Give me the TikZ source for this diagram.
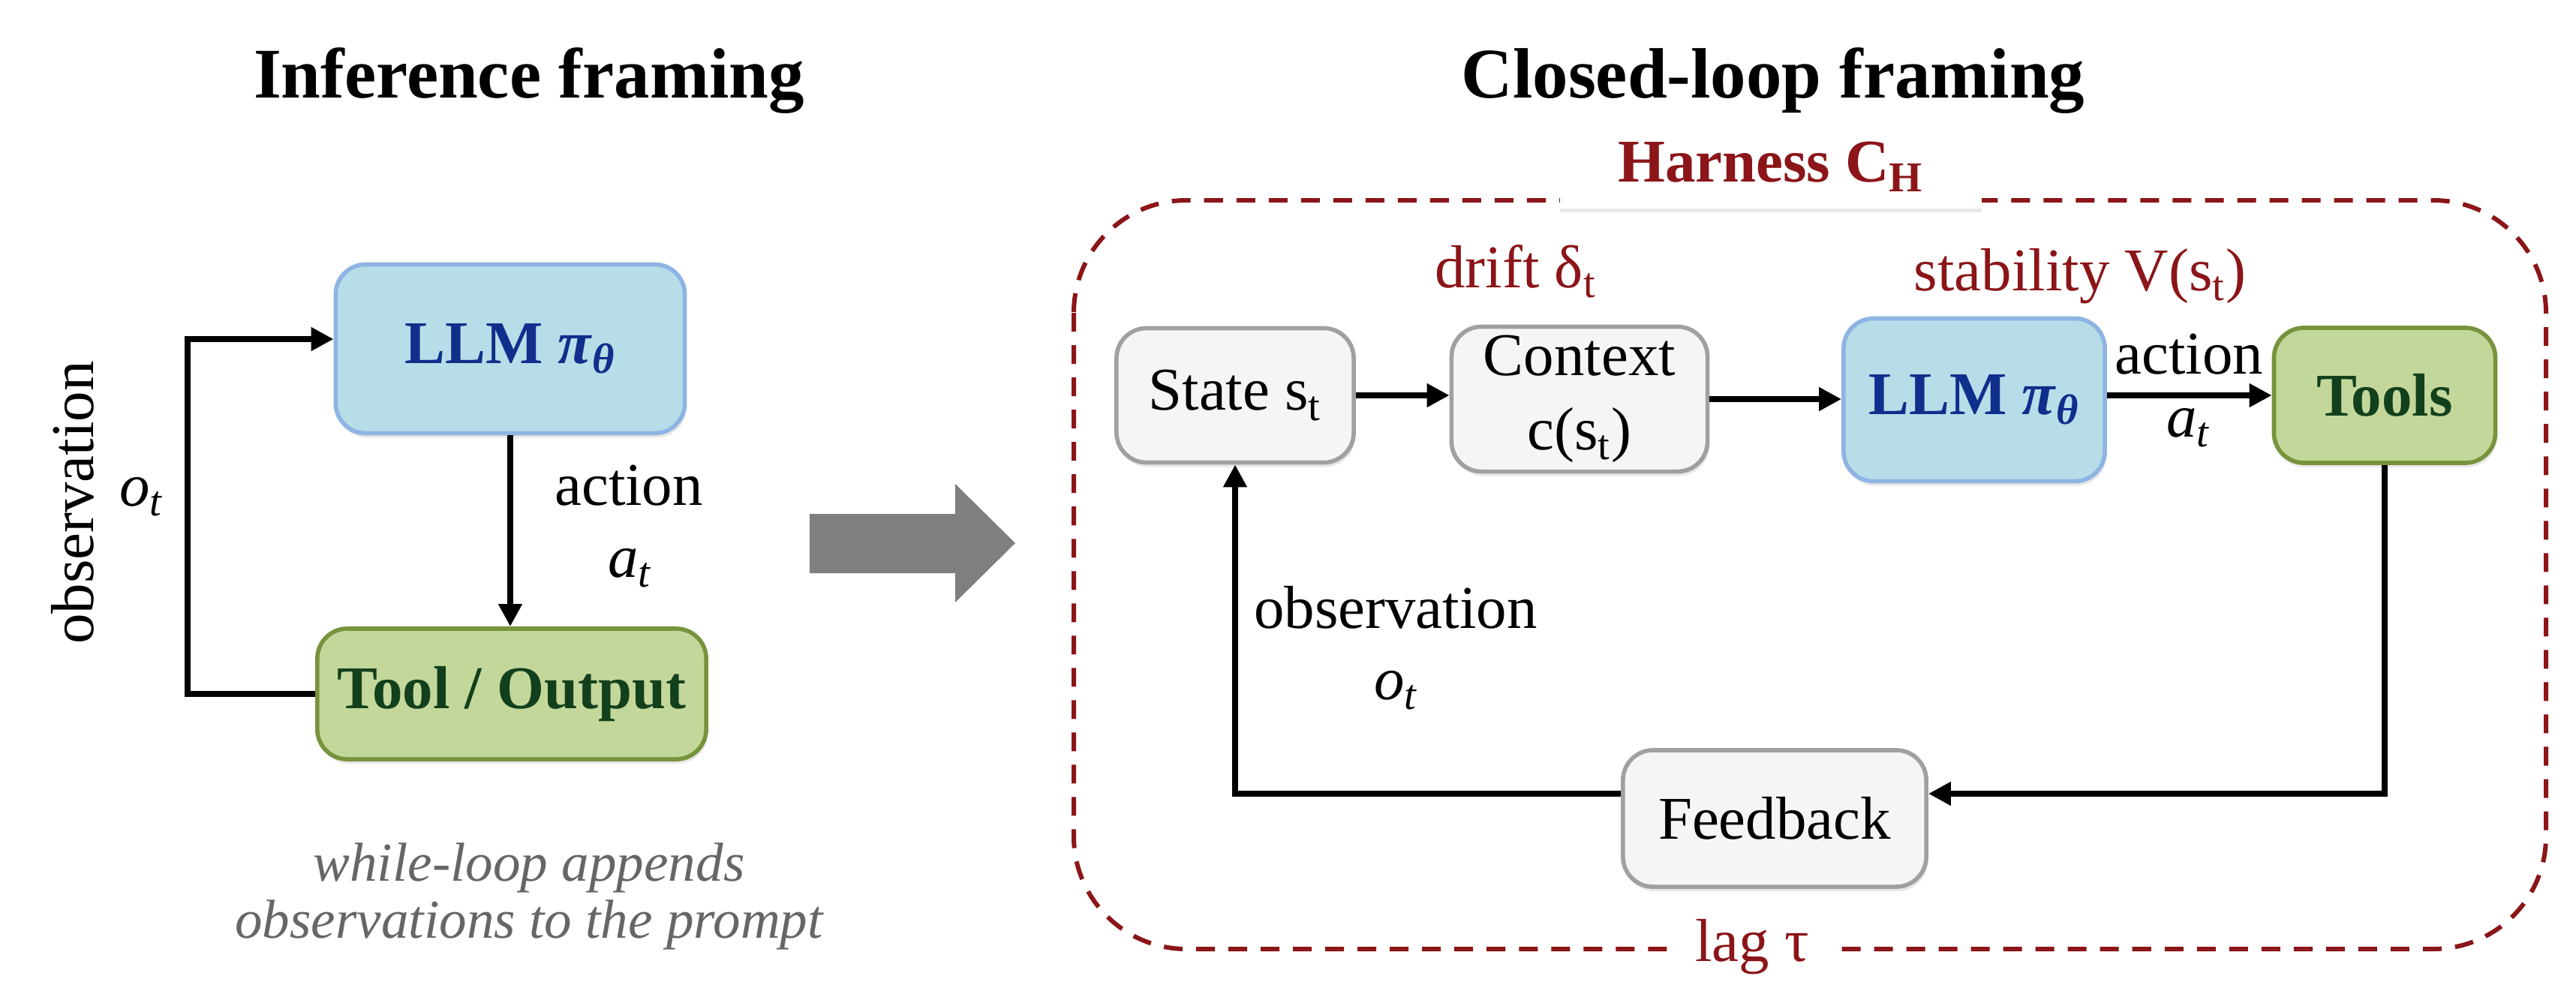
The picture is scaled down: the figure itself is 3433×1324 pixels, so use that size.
\documentclass[tikz,border=0pt]{standalone}
\usepackage{fontspec}
\setmainfont{Liberation Serif}[
  UprightFont={Liberation Serif},
  BoldFont={Liberation Serif Bold},
  ItalicFont={Liberation Serif Italic},
  BoldItalicFont={Liberation Serif Bold Italic}]
\usetikzlibrary{arrows.meta}
\usetikzlibrary{shadows}

\definecolor{llmfill}{RGB}{183,221,232}
\definecolor{llmdraw}{RGB}{142,180,227}
\definecolor{llmtext}{RGB}{16,46,140}
\definecolor{toolfill}{RGB}{196,215,155}
\definecolor{tooldraw}{RGB}{119,147,60}
\definecolor{tooltext}{RGB}{18,64,28}
\definecolor{boxfill}{RGB}{245,245,245}
\definecolor{boxdraw}{RGB}{160,160,160}
\definecolor{harnessred}{RGB}{139,21,24}
\definecolor{bigarrow}{RGB}{127,127,127}
\definecolor{notegray}{RGB}{102,102,102}

\newcommand{\boxfont}{\fontsize{23}{28}\selectfont}
\newcommand{\titlefont}{\fontsize{27}{32}\selectfont\bfseries}
\newcommand{\notefont}{\fontsize{20.8}{21.5}\selectfont\itshape}
\newcommand{\pitheta}{\textbf{\textit{π}}\textsubscript{\textbf{\textit{θ}}}}

\begin{document}
\begin{tikzpicture}
[x=0.01cm,y=-0.01cm,
  box/.style={shape=rectangle,rounded corners=0.4cm,line width=1.6pt,inner sep=0pt,
    align=center,font=\boxfont,drop shadow={opacity=0.18,shadow xshift=0.02cm,shadow yshift=-0.06cm}},
  llm/.style={box,fill=llmfill,draw=llmdraw,text=llmtext,font=\boxfont\bfseries},
  tool/.style={box,fill=toolfill,draw=tooldraw,text=tooltext,font=\boxfont\bfseries},
  plain/.style={box,fill=boxfill,draw=boxdraw},
  arr/.style={line width=2.5pt,-{Triangle[length=0.3cm,width=0.3cm]}},
  lbl/.style={font=\boxfont,inner sep=0pt},
  redlbl/.style={lbl,text=harnessred},
  frame/.style={draw=harnessred,line width=1.7pt,dash pattern=on 0.25cm off 0.18cm,rounded corners=1.5cm}]

\useasboundingbox (0,0) rectangle (3433,1324);

% titles
\node [font=\titlefont,anchor=base] (titleA) at (705,130) {Inference framing};
\node [font=\titlefont,anchor=base] (titleB) at (2363,130) {Closed-loop framing};

% inference framing
\node [llm,minimum width=4.65cm,minimum height=2.25cm] (llmA) at (680,465) {LLM \pitheta};
\node [tool,minimum width=5.18cm,minimum height=1.74cm] (toolA) at (682,925) {Tool / Output};

\coordinate (loopA) at (250,452);
\draw [arr] (llmA.south) -- (llmA.south |- toolA.north);
\draw [arr] (toolA.west) -| (loopA) -- (loopA -| llmA.west);

\node [lbl] (actA) at (838,647) {action};
\node [lbl] (atA) at (840,757) {\textit{a}\textsubscript{\textit{t}}};
\node [lbl,rotate=90] (obsA) at (97,670) {observation};
\node [lbl] (otA) at (189,662) {\textit{o}\textsubscript{\textit{t}}};

\node [font=\notefont,text=notegray,align=center] (note) at (705,1195)
  {while-loop appends\\observations to the prompt};

% big arrow
\fill [bigarrow] (1079,685) -- (1273,685) -- (1273,645) -- (1353,724)
  -- (1273,803) -- (1273,764) -- (1079,764) -- cycle;

% closed-loop framing
\draw [frame] (1431,267) rectangle (3393,1265);
\node [fill=white,minimum width=5.62cm,minimum height=1.12cm,inner sep=0pt,
  font=\boxfont\bfseries,text=harnessred,
  drop shadow={opacity=0.18,shadow xshift=0cm,shadow yshift=-0.05cm}] (harness) at (2360,222)
  {Harness C\textsubscript{H}};
\node [redlbl,fill=white,minimum width=2.08cm,minimum height=0.66cm] (lag) at (2335,1262) {lag τ};

\node [plain,minimum width=3.16cm,minimum height=1.79cm] (state) at (1646,527) {State s\textsubscript{t}};
\node [plain,minimum width=3.41cm,minimum height=1.93cm] (ctx) at (2105,532) {Context\\c(s\textsubscript{t})};
\node [llm,minimum width=3.48cm,minimum height=2.17cm] (llmB) at (2631,533) {LLM \pitheta};
\node [tool,minimum width=2.95cm,minimum height=1.80cm] (tools) at (3178,527) {Tools};
\node [plain,minimum width=4.04cm,minimum height=1.82cm] (fb) at (2365,1091) {Feedback};

\draw [arr] (state.east) -- (ctx.west |- state.east);
\draw [arr] (ctx.east) -- (llmB.west |- ctx.east);
\draw [arr] (llmB.east |- tools.west) -- (tools.west);
\draw [arr] (tools.south) |- ([yshift=0.33cm]fb.east);
\draw [arr] ([yshift=0.33cm]fb.west) -| (state.south);

\node [redlbl] (drift) at (2020,362) {drift δ\textsubscript{t}};
\node [redlbl] (stab) at (2772,368) {stability V(s\textsubscript{t})};
\node [lbl] (actB) at (2917,472) {action};
\node [lbl] (atB) at (2917,570) {\textit{a}\textsubscript{\textit{t}}};
\node [lbl] (obsB) at (1860,810) {observation};
\node [lbl] (otB) at (1861,920) {\textit{o}\textsubscript{\textit{t}}};
\end{tikzpicture}
\end{document}
